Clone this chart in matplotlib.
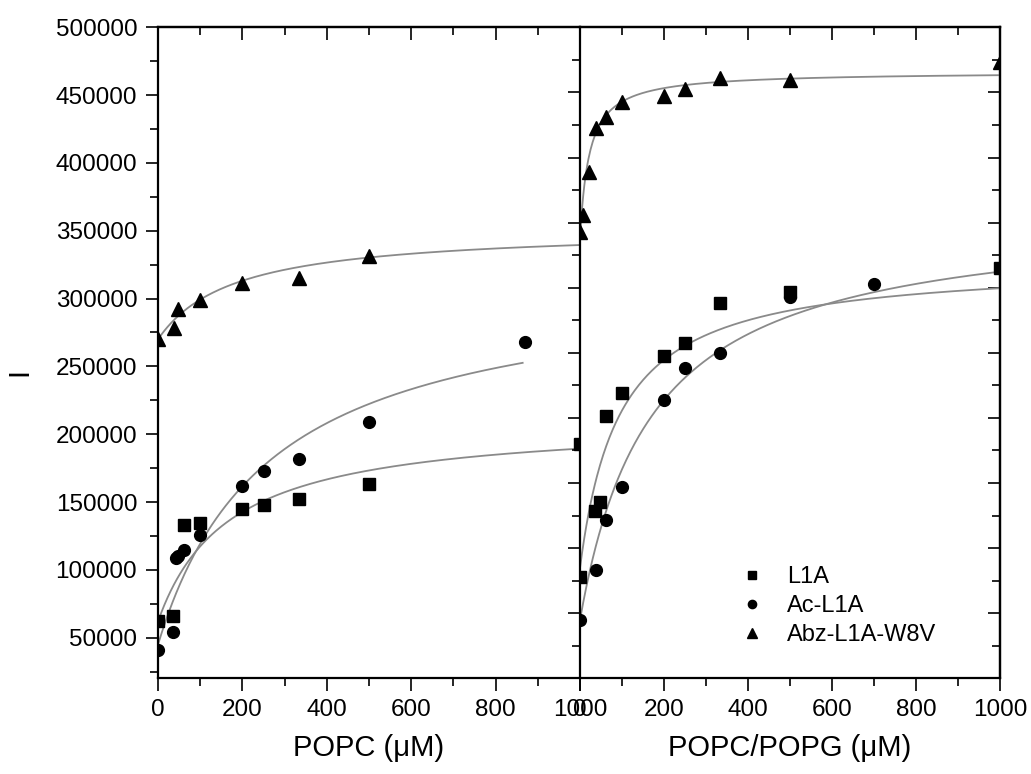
import matplotlib
matplotlib.use('Agg')
import matplotlib.pyplot as plt
import numpy as np
from matplotlib.ticker import MultipleLocator

plt.rcParams['font.family'] = ['Liberation Sans', 'DejaVu Sans']

# POPC titration (left panel)
popc_x_l1a = [0, 36, 62, 100, 200, 250, 333, 500, 1000]
popc_l1a = [62000, 66000, 133000, 134500, 144500, 147500, 152500, 163000, 192500]
popc_x_ac = [0, 36, 42, 48, 62, 100, 200, 250, 333, 500, 870]
popc_ac = [40600, 54000, 108500, 110000, 114500, 125500, 161500, 173000, 181500, 209000, 268000]
popc_x_abz = [0, 38, 48, 100, 200, 333, 500]
popc_abz = [270500, 278000, 292000, 299000, 311500, 315500, 331500]

# POPC/POPG titration (right panel, own y scale)
pg_x_l1a = [0, 36, 48, 63, 100, 200, 250, 333, 500, 1000]
pg_l1a = [78000, 128500, 135500, 201500, 219500, 247500, 257500, 288000, 297000, 315000]
pg_x_ac = [0, 38, 63, 100, 200, 250, 333, 500, 700]
pg_ac = [45000, 83000, 121500, 147000, 214000, 238000, 249500, 292500, 303000]
pg_x_abz = [0, 8, 21, 38, 63, 100, 200, 250, 333, 500, 1000]
pg_abz = [343000, 356000, 389000, 422500, 431000, 443000, 447500, 453000, 461000, 459500, 473500]

# hyperbolic binding fits: I = I0 + dI * x / (Kd + x), order L1A, Ac-L1A, Abz-L1A-W8V
popc_fit_i0 = [62000, 45000, 270000]
popc_fit_di = [148900, 271300, 82000]
popc_fit_kd = [169, 265, 180]
popc_fit_xmax = [1000, 864, 1000]

pg_fit_i0 = [85000, 45000, 338000]
pg_fit_di = [234900, 313000, 128000]
pg_fit_kd = [94.5, 170.8, 22]
pg_fit_xmax = [1000, 1000, 1000]

names = ['L1A', 'Ac-L1A', 'Abz-L1A-W8V']
markers = ['s', 'o', '^']
msizes = [8, 8.5, 10]

TICK_KW = dict(width=1.2)
MAJ_LEN, MIN_LEN = 9, 5.5


def binding(x, i0, di, kd):
    return i0 + di * x / (kd + x)


def style_axes(ax, ylim):
    ax.set_xlim(0, 1000)
    ax.set_ylim(*ylim)
    ax.xaxis.set_major_locator(MultipleLocator(200))
    ax.xaxis.set_minor_locator(MultipleLocator(100))
    ax.yaxis.set_major_locator(MultipleLocator(50000))
    ax.yaxis.set_minor_locator(MultipleLocator(25000))
    ax.tick_params(which='both', direction='out', labelsize=17.5, pad=6,
                   top=False, right=False, **TICK_KW)
    ax.tick_params(which='major', length=MAJ_LEN)
    ax.tick_params(which='minor', length=MIN_LEN)
    for s in ax.spines.values():
        s.set_linewidth(1.6)
    # top ticks point down into the frame
    top = ax.secondary_xaxis('top')
    top.xaxis.set_major_locator(MultipleLocator(200))
    top.xaxis.set_minor_locator(MultipleLocator(100))
    top.tick_params(which='both', direction='in', labeltop=False, **TICK_KW)
    top.tick_params(which='major', length=MAJ_LEN)
    top.tick_params(which='minor', length=MIN_LEN)
    top.spines['top'].set_linewidth(1.6)


def draw_panel(ax, xs, ys, i0s, dis, kds, xmaxs):
    for k in range(3):
        xf = np.linspace(0, xmaxs[k], 400)
        ax.plot(xf, binding(xf, i0s[k], dis[k], kds[k]), color='#8a8a8a', lw=1.3, zorder=2)
    for k in range(3):
        ax.plot(xs[k], ys[k], linestyle='none', marker=markers[k], ms=msizes[k],
                color='black', label=names[k], zorder=3)


fig = plt.figure(figsize=(10.31, 7.74), dpi=100)
ax1 = fig.add_axes([0.1533, 0.1236, 0.4093, 0.8411])
ax2 = fig.add_axes([0.5626, 0.1236, 0.4073, 0.8411])

draw_panel(ax1, [popc_x_l1a, popc_x_ac, popc_x_abz], [popc_l1a, popc_ac, popc_abz],
           popc_fit_i0, popc_fit_di, popc_fit_kd, popc_fit_xmax)
draw_panel(ax2, [pg_x_l1a, pg_x_ac, pg_x_abz], [pg_l1a, pg_ac, pg_abz],
           pg_fit_i0, pg_fit_di, pg_fit_kd, pg_fit_xmax)

style_axes(ax1, (20000, 500000))
style_axes(ax2, (0, 500000))

ax1.spines['right'].set_visible(False)
ax2.tick_params(axis='y', labelleft=False)
right = ax2.secondary_yaxis('right')
right.yaxis.set_major_locator(MultipleLocator(50000))
right.yaxis.set_minor_locator(MultipleLocator(25000))
right.tick_params(which='both', direction='in', labelright=False, **TICK_KW)
right.tick_params(which='major', length=MAJ_LEN)
right.tick_params(which='minor', length=MIN_LEN)
right.spines['right'].set_linewidth(1.6)

ax1.set_xlabel('POPC (\u03bcM)', fontsize=21, labelpad=9)
ax2.set_xlabel('POPC/POPG (\u03bcM)', fontsize=21, labelpad=9)
ax1.set_ylabel('I', fontsize=21)
ax1.yaxis.set_label_coords(-0.295, 0.47)

ax2.legend(loc='upper left', bbox_to_anchor=(0.325, 0.205), frameon=False,
           fontsize=17, markerscale=0.7, handletextpad=0.9, labelspacing=0.3,
           handlelength=1.2)

fig.savefig('out.png', dpi=100)
